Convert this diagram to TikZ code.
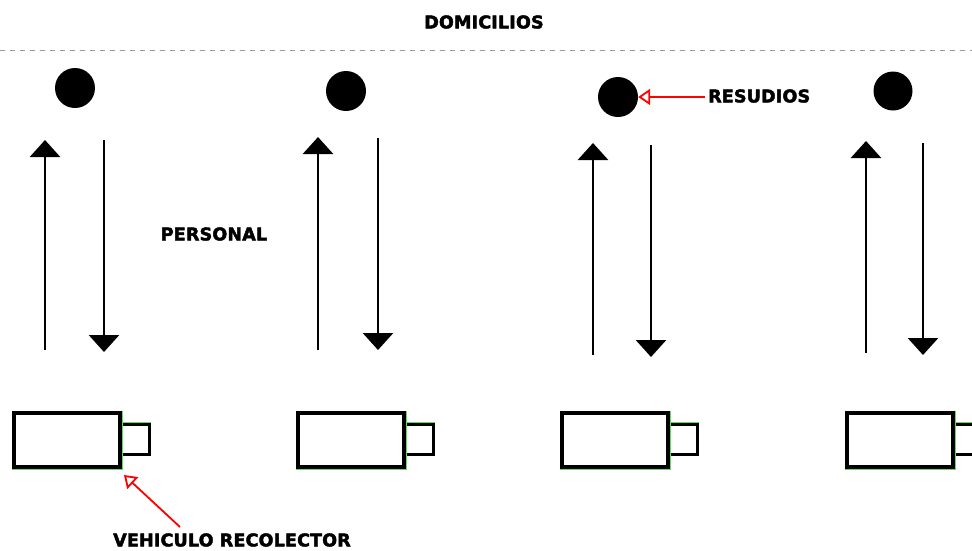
\documentclass[tikz,border=0pt]{standalone}
\usepackage{fontspec}
\setmainfont{DejaVu Sans}
\newfontfamily\labelfont[LetterSpace=1,FakeBold=2.5]{DejaVu Sans Bold}
\usetikzlibrary{arrows.meta}
\begin{document}
\begin{tikzpicture}[x=1pt,y=-1pt,
  lbl/.style={font=\labelfont\fontsize{17.5}{17.5}\selectfont, inner sep=0pt},
  dot/.style={circle, fill=black, inner sep=0pt, minimum size=#1},
  flow/.style={line width=2.8pt, -{Triangle[width=30pt,length=17pt]}},
  pointer/.style={draw=red, line width=1.8pt, -{Triangle[open,width=16pt,length=12pt,line width=1.8pt]}},
  body/.style={draw=black, line width=4pt, fill=white},
  bodyedge/.style={draw=green!55!white!85!black, line width=5pt}
]
\useasboundingbox (0,0) rectangle (972,550);

% heading and boundary of the homes
\node[lbl] (dom) at (484,22) {DOMICILIOS};
\draw[gray!80, line width=1pt, dash pattern=on 5pt off 5pt] (0,50) -- (972,50);

% waste bags
\node[dot=40pt] (c1) at (75,88) {};
\node[dot=40pt] (c2) at (346,91) {};
\node[dot=40pt] (c3) at (618,97) {};
\node[dot=39pt] (c4) at (893,91) {};

% staff walking to the homes and back to the truck
\foreach \i/\u/\d/\ya/\yb/\yc/\yd in {1/45/104/350/140/140/352, 2/318/378/350/137/138/350, 3/593/651/355/143/145/357, 4/866/923/353/141/143/355}{
  \coordinate (u\i s) at (\u,\ya);
  \coordinate (u\i e) at (\u,\yb);
  \coordinate (d\i s) at (\d,\yc);
  \coordinate (d\i e) at (\d,\yd);
  \draw[flow] (u\i s) -- (u\i e);
  \draw[flow] (d\i s) -- (d\i e);
}

\node[lbl] (personal) at (214,234) {PERSONAL};

% collection trucks: thin green rim under a thick black frame
\foreach \i/\x in {1/14, 2/298, 3/562, 4/847}{
  \draw[bodyedge, line width=3.8pt] (\x+106,424) rectangle (\x+135,454);
  \draw[body, line width=3pt] (\x+106,424) rectangle (\x+135,454);
  \draw[bodyedge] (\x,413) rectangle (\x+106,467);
  \draw[body] (\x,413) rectangle (\x+106,467);
  \coordinate (v\i) at (\x+111,476);
}

% callouts
\node[lbl, anchor=west] (res) at (708,96) {RESUDIOS};
\coordinate (rtail) at (705,97);
\draw[pointer] (rtail) -- (c3.east);

\node[lbl] (veh) at (232,540) {VEHICULO RECOLECTOR};
\coordinate (vtail) at (180,527);
\coordinate (vtip) at (124,475);
\draw[pointer] (vtail) -- (vtip);
\end{tikzpicture}
\end{document}
